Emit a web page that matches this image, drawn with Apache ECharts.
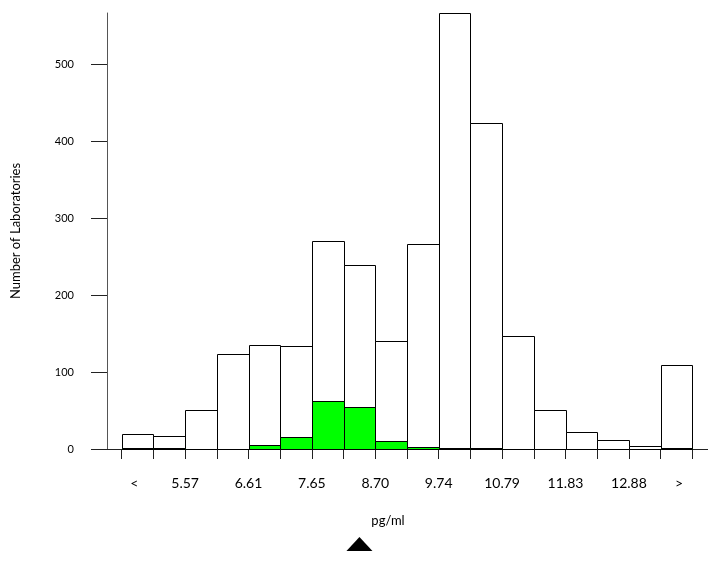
<!DOCTYPE html>
<html>
<head>
<meta charset="utf-8">
<script src="https://cdn.jsdelivr.net/npm/echarts@6/dist/echarts.min.js"></script>
<style>html,body{margin:0;padding:0;background:#fff}#c{width:708px;height:563px}</style>
</head>
<body>
<div id="c"></div>
<script>
// bins (index 0 = "<", last = ">")
var binCount = 18;
var allLabs = [19, 17, 51, 123, 135, 134, 270, 239, 140, 266, 567, 424, 147, 51, 22, 12, 4, 109];
var groupLabs = [1, 1, 0, 0, 5, 16, 63, 55, 11, 3, 1.5, 1, 0, 0, 0, 0, 0, 1];
var xTickLabels = ['<', '5.57', '6.61', '7.65', '8.70', '9.74', '10.79', '11.83', '12.88', '>'];
var xTickPositions = [0.4, 2, 4, 6, 8, 10, 12, 14, 16, 17.58];
var yTicks = [0, 100, 200, 300, 400, 500];
var yMax = 567;
var targetBin = 7.5;
var xName = 'pg/ml';
var yName = 'Number of Laboratories';

var FONT = 'Lato';
var edges = [];
for (var i = 0; i <= binCount; i++) edges.push(i);

function barRenderer(fill) {
  return function (params, api) {
    var i = api.value(0), v = api.value(1);
    if (!v) return null;
    var p0 = api.coord([i, 0]);
    var p1 = api.coord([i + 1, v]);
    var x0 = Math.round(p0[0]) + 0.5, x1 = Math.round(p1[0]) + 0.5;
    var y0 = Math.round(p0[1]) + 0.5, y1 = Math.round(p1[1]) + 0.5;
    return {
      type: 'rect',
      shape: { x: x0, y: y1, width: x1 - x0, height: y0 - y1 },
      style: { fill: fill, stroke: '#000', lineWidth: 1 }
    };
  };
}

var chart = echarts.init(document.getElementById('c'), null, { renderer: 'canvas' });
chart.setOption({
  animation: false,
  backgroundColor: '#fff',
  textStyle: { fontFamily: FONT },
  grid: [
    { left: 107, right: 0, top: 13, bottom: 114, containLabel: false, outerBoundsMode: 'none' },
    { left: 107, right: 0, top: 537, height: 14, containLabel: false, outerBoundsMode: 'none' }
  ],
  title: {
    text: xName, left: 383, top: 509, textAlign: 'center',
    textStyle: { fontFamily: FONT, fontSize: 13, fontWeight: 'normal', color: '#000' }
  },
  xAxis: [{
    type: 'value', gridIndex: 0,
    min: -14.7 / 31.7, max: 18 + 15.7 / 31.7,
    splitLine: { show: false },
    axisLine: { show: true, onZero: false, lineStyle: { color: '#222', width: 1 } },
    axisTick: { show: true, length: 10, customValues: edges, lineStyle: { color: '#222' } },
    axisLabel: {
      customValues: xTickPositions,
      formatter: function (v) {
        for (var k = 0; k < xTickPositions.length; k++) if (Math.abs(xTickPositions[k] - v) < 1e-6) return xTickLabels[k];
        return '';
      },
      margin: 27, fontSize: 14, color: '#000', fontFamily: FONT
    }
  }, {
    type: 'value', gridIndex: 1,
    min: -14.7 / 31.7, max: 18 + 15.7 / 31.7,
    show: false
  }],
  yAxis: [{
    type: 'value', gridIndex: 0, min: 0, max: yMax,
    name: yName, nameLocation: 'middle', nameGap: 85,
    nameTextStyle: { fontFamily: FONT, fontSize: 13, color: '#000' },
    splitLine: { show: false },
    axisLine: { show: true, onZero: false, lineStyle: { color: '#555', width: 1 } },
    axisTick: { show: true, length: 16, customValues: yTicks, lineStyle: { color: '#222' } },
    axisLabel: { customValues: yTicks, margin: 33, fontSize: 11, color: '#000', fontFamily: FONT }
  }, {
    type: 'value', gridIndex: 1, min: 0, max: 1, show: false
  }],
  series: [{
    type: 'custom', xAxisIndex: 0, yAxisIndex: 0,
    renderItem: barRenderer('#ffffff'),
    data: allLabs.map(function (v, i) { return [i, v]; }),
    clip: false
  }, {
    type: 'custom', xAxisIndex: 0, yAxisIndex: 0,
    renderItem: barRenderer('#00ff00'),
    data: groupLabs.map(function (v, i) { return [i, v]; }),
    clip: false
  }, {
    type: 'scatter', xAxisIndex: 1, yAxisIndex: 1,
    symbol: 'triangle', symbolSize: [26, 14],
    itemStyle: { color: '#000', opacity: 1 },
    data: [[targetBin, 0.5]]
  }]
});
</script>
</body>
</html>
